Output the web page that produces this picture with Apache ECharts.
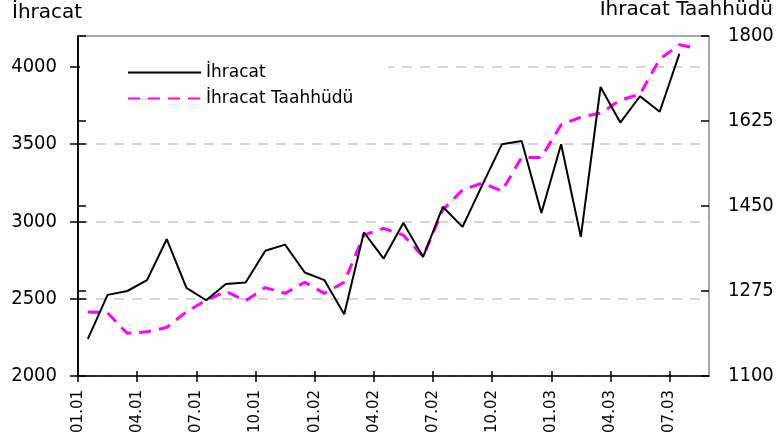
<!DOCTYPE html>
<html>
<head>
<meta charset="utf-8">
<script src="https://cdn.jsdelivr.net/npm/echarts@6/dist/echarts.min.js"></script>
<style>
  html, body { margin: 0; padding: 0; background: #fff; }
  #chart { width: 779px; height: 447px; }
</style>
</head>
<body>
<div id="chart"></div>
<script>
// monthly values, Jan 2001 .. Jul 2003 (left axis)
const ihracat = [2240, 2525, 2550, 2620, 2885, 2570, 2490, 2595, 2605, 2810, 2850, 2670,
  2620, 2400, 2930, 2760, 2990, 2770, 3095, 2965, 3235, 3500, 3520, 3055,
  3500, 2900, 3870, 3640, 3810, 3710, 4085]
// monthly values, Jan 2001 .. Jul 2003 plus an early-August reading (right axis)
const taahhut = [1232, 1230, 1188, 1191, 1200, 1232, 1256, 1274, 1255, 1282, 1270, 1293,
  1270, 1293, 1390, 1404, 1390, 1346, 1442, 1483, 1497, 1481, 1550, 1550,
  1617, 1633, 1641, 1668, 1680, 1752, 1782, 1777]
const taahhutLastX = 31.07 // last reading sits just after the start of Aug 2003

const tickLabels = ['01.01', '04.01', '07.01', '10.01', '01.02', '04.02', '07.02', '10.02', '01.03', '04.03', '07.03']
const leftTicks = [2000, 2500, 3000, 3500, 4000]

const sans = '"DejaVu Sans", sans-serif'
const condensed = '"DejaVu Sans Condensed", "DejaVu Sans", sans-serif'

// points sit mid-month on a month-index axis
const ihracatData = ihracat.map((v, i) => [i + 0.5, v])
const taahhutData = taahhut.map((v, i) => [i === taahhut.length - 1 ? taahhutLastX : i + 0.5, v])
const xTicks = tickLabels.map((_, i) => i * 3)

const chart = echarts.init(document.getElementById('chart'))

const xBase = {
  type: 'value',
  min: 0,
  max: 32,
  interval: 3,
  splitLine: { show: false },
}
const tickStyle = { color: '#000', width: 1.5 }

chart.setOption({
  animation: false,
  backgroundColor: '#fff',
  grid: {
    left: 78, right: 70, top: 36, bottom: 71,
    show: true, borderColor: '#8a8a8a', borderWidth: 1.5,
  },
  graphic: [
    { type: 'text', left: 12, top: 3, style: { text: 'İhracat', fontSize: 20, fontFamily: sans, fill: '#000' } },
    { type: 'text', right: 6, top: 0, style: { text: 'İhracat Taahhüdü', fontSize: 20, fontFamily: sans, fill: '#000' } },
  ],
  legend: {
    orient: 'vertical',
    left: 80,
    top: 56,
    padding: [8, 35, 8, 47],
    backgroundColor: '#fff',
    itemWidth: 73,
    itemHeight: 20,
    itemGap: 9,
    itemStyle: { opacity: 0 },
    textStyle: { fontSize: 17, fontFamily: sans, color: '#000' },
    data: ['İhracat', 'İhracat Taahhüdü'],
  },
  xAxis: [
    {
      ...xBase,
      axisLine: { show: true, lineStyle: { color: '#000', width: 1.5 } },
      axisTick: { show: true, length: 6, lineStyle: tickStyle, customValues: xTicks },
      axisLabel: {
        rotate: 90,
        margin: 14,
        fontSize: 15,
        fontFamily: sans,
        color: '#000',
        showMaxLabel: false,
        formatter: v => tickLabels[v / 3] || '',
      },
    },
    {
      ...xBase,
      position: 'bottom',
      axisLine: { show: false },
      axisTick: { show: true, inside: true, length: 5, lineStyle: tickStyle, customValues: xTicks },
      axisLabel: { show: false },
    },
  ],
  yAxis: [
    {
      type: 'value',
      position: 'left',
      min: 2000,
      max: 4200,
      interval: 500,
      axisLine: { show: true, lineStyle: { color: '#000', width: 1.5 } },
      axisTick: { show: true, length: 8, lineStyle: tickStyle, customValues: leftTicks },
      axisLabel: { margin: 21, fontSize: 20, fontFamily: condensed, color: '#000', showMaxLabel: false, formatter: v => String(v) },
      splitLine: { show: true, lineStyle: { color: '#c8c8c8', width: 1.5, type: [10, 8] } },
    },
    {
      type: 'value',
      position: 'right',
      min: 1100,
      max: 1800,
      interval: 175,
      axisLine: { show: true, lineStyle: { color: '#000', width: 1.5 } },
      axisTick: { show: true, length: 8, lineStyle: tickStyle },
      axisLabel: { margin: 19, fontSize: 20, fontFamily: condensed, color: '#000', formatter: v => String(v) },
      splitLine: { show: false },
    },
    {
      type: 'value',
      position: 'left',
      min: 2000,
      max: 4200,
      interval: 500,
      axisLine: { show: false },
      axisTick: { show: true, inside: true, length: 8, lineStyle: tickStyle, customValues: leftTicks },
      axisLabel: { show: false },
      splitLine: { show: false },
    },
    {
      type: 'value',
      position: 'right',
      min: 1100,
      max: 1800,
      interval: 175,
      axisLine: { show: false },
      axisTick: { show: true, inside: true, length: 8, lineStyle: tickStyle },
      axisLabel: { show: false },
      splitLine: { show: false },
    },
  ],
  series: [
    {
      name: 'İhracat',
      type: 'line',
      yAxisIndex: 0,
      symbol: 'none',
      data: ihracatData,
      lineStyle: { color: '#000', width: 2 },
      itemStyle: { color: '#000' },
      z: 3,
    },
    {
      name: 'İhracat Taahhüdü',
      type: 'line',
      yAxisIndex: 1,
      symbol: 'none',
      data: taahhutData,
      lineStyle: { color: '#ff00ff', width: 3, type: [12, 8] },
      itemStyle: { color: '#ff00ff' },
      z: 2,
    },
  ],
})
</script>
</body>
</html>
